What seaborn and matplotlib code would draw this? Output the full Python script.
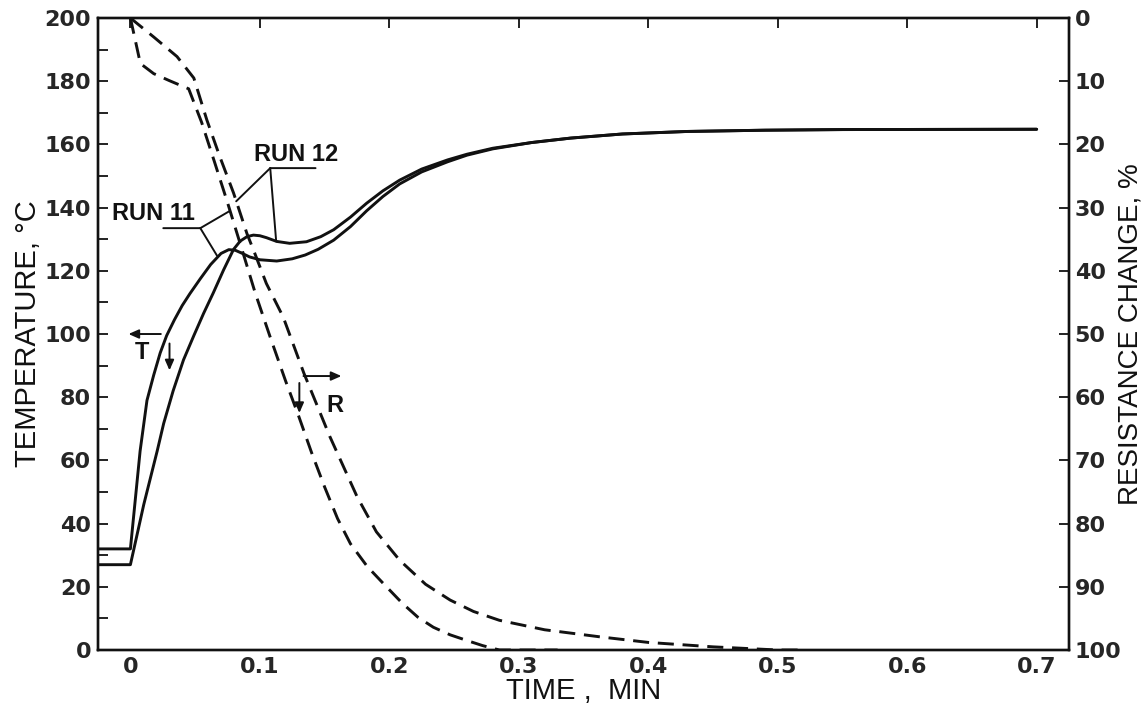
import matplotlib
matplotlib.use("Agg")
import matplotlib.pyplot as plt
import seaborn as sns
import pandas as pd

# --- temperature curves (deg C) ---
t_run11_T = [-0.025, 0.0, 0.0075, 0.0128, 0.018, 0.023, 0.028, 0.034, 0.04, 0.046, 0.054,
             0.062, 0.07, 0.076, 0.081, 0.086, 0.092, 0.1, 0.113, 0.125, 0.135, 0.145,
             0.157, 0.17, 0.1825, 0.195, 0.208, 0.225, 0.245, 0.26, 0.28, 0.31, 0.34,
             0.38, 0.43, 0.49, 0.55, 0.7]
T_run11 = [32, 32, 63, 79, 87, 94, 99.5, 104.5, 109, 112.8, 117.5,
           122, 125.5, 126.7, 126.5, 125.6, 124.4, 123.5, 123.1, 123.8, 125, 126.8,
           129.7, 134, 139, 143.5, 147.5, 151.3, 154.5, 156.6, 158.6, 160.6, 162,
           163.3, 164.1, 164.5, 164.7, 164.8]

t_run12_T = [-0.025, 0.0, 0.0103, 0.0207, 0.0257, 0.033, 0.041, 0.049, 0.0565, 0.064,
             0.072, 0.0797, 0.0848, 0.09, 0.095, 0.1, 0.105, 0.113, 0.123, 0.136, 0.147,
             0.157, 0.17, 0.1825, 0.195, 0.208, 0.225, 0.245, 0.26, 0.28, 0.31, 0.34,
             0.38, 0.43, 0.49, 0.55, 0.7]
T_run12 = [27, 27, 46, 63, 71.7, 82, 91.8, 99.5, 106.5, 113,
           120.3, 126.8, 129.4, 130.8, 131.3, 131.1, 130.5, 129.3, 128.7, 129.2, 130.8,
           133, 137, 141.4, 145.3, 148.7, 152.2, 155.1, 156.9, 158.8, 160.6, 162,
           163.3, 164.1, 164.5, 164.7, 164.8]

# --- resistance change curves (%) ---
t_run11_R = [0.0, 0.0077, 0.018, 0.03, 0.045, 0.055, 0.065, 0.075, 0.086, 0.0964, 0.108,
             0.12, 0.13, 0.14, 0.15, 0.16, 0.17, 0.183, 0.195, 0.21, 0.222, 0.234,
             0.247, 0.26, 0.272, 0.285, 0.33]
R_run11 = [0, 7.2, 8.8, 9.9, 11.2, 16.5, 22.8, 29.2, 36.5, 43.5, 50.5,
           57.5, 63, 68.8, 74.2, 79.2, 83.2, 86.8, 89.4, 92.6, 94.8, 96.4,
           97.6, 98.5, 99.3, 100, 100]

t_run12_R = [0.0, 0.018, 0.036, 0.049, 0.059, 0.069, 0.0797, 0.09, 0.096, 0.105, 0.118,
             0.134, 0.154, 0.175, 0.19, 0.208, 0.228, 0.247, 0.265, 0.285, 0.32, 0.362,
             0.4, 0.45, 0.5, 0.52]
R_run12 = [0, 3.0, 6.1, 9.5, 16.1, 21.9, 27.7, 34.1, 37.2, 42, 47.3,
           56.2, 66.2, 75.7, 81.3, 85.8, 89.6, 92.1, 93.9, 95.3, 96.8, 97.9,
           98.8, 99.5, 100, 100]

x_ticks = [0, 0.1, 0.2, 0.3, 0.4, 0.5, 0.6, 0.7]
x_ticklabels = ["0", "0.1", "0.2", "0.3", "0.4", "0.5", "0.6", "0.7"]
T_ticks = [0, 20, 40, 60, 80, 100, 120, 140, 160, 180, 200]
R_ticks = [0, 10, 20, 30, 40, 50, 60, 70, 80, 90, 100]

sns.set_theme(style="white")
plt.rcParams["font.family"] = ["Liberation Sans", "DejaVu Sans"]
plt.rcParams["axes.edgecolor"] = "black"

fig = plt.figure(figsize=(11.48, 7.18), dpi=100)
ax = fig.add_axes([0.0854, 0.0947, 0.8458, 0.8802])
ax2 = ax.twinx()

ink = "#111111"
solid_lw = 2.1
dash_style = (0, (5.5, 3.0))

df_T = pd.concat([
    pd.DataFrame({"time": t_run11_T, "temp": T_run11, "run": "RUN 11"}),
    pd.DataFrame({"time": t_run12_T, "temp": T_run12, "run": "RUN 12"}),
])
df_R = pd.concat([
    pd.DataFrame({"time": t_run11_R, "res": R_run11, "run": "RUN 11"}),
    pd.DataFrame({"time": t_run12_R, "res": R_run12, "run": "RUN 12"}),
])

for run, sub in df_T.groupby("run"):
    sns.lineplot(data=sub, x="time", y="temp", ax=ax, color=ink, lw=solid_lw,
                 sort=False, estimator=None, legend=False)
for run, sub in df_R.groupby("run"):
    sns.lineplot(data=sub, x="time", y="res", ax=ax2, color=ink, lw=solid_lw,
                 sort=False, estimator=None, legend=False, linestyle=dash_style)

# axes limits and ticks
ax.set_xlim(-0.025, 0.725)
ax.set_ylim(0, 200)
ax2.set_ylim(100, 0)

tick_font = dict(fontsize=16, fontweight="bold", family=["DejaVu Sans"])
ax.set_xticks(x_ticks)
ax.set_xticklabels(x_ticklabels, **tick_font)
ax.set_yticks(T_ticks)
ax.set_yticklabels([str(v) for v in T_ticks], **tick_font)
ax.set_yticks(list(range(10, 200, 20)), minor=True)
ax2.set_yticks(R_ticks)
ax2.set_yticklabels([str(v) for v in R_ticks], **tick_font)

ax.tick_params(axis="both", which="both", direction="in", color=ink, width=1.3)
ax.tick_params(axis="y", which="major", length=7, pad=5)
ax.tick_params(axis="y", which="minor", length=7)
ax.tick_params(axis="x", which="major", length=7, pad=5, top=True)
ax2.tick_params(axis="y", direction="in", length=7, width=1.3, color=ink, pad=4)

for a in (ax, ax2):
    for s in a.spines.values():
        s.set_linewidth(1.7)
        s.set_color(ink)

ax.set_xlabel("TIME ,  MIN", fontsize=21, labelpad=0, color=ink)
ax.set_ylabel("TEMPERATURE, °C", fontsize=21, color=ink)
ax2.set_ylabel("RESISTANCE CHANGE, %", fontsize=20, color=ink)
ax.yaxis.set_label_coords(-0.058, 0.5)
ax2.yaxis.set_label_coords(1.05, 0.5)
ax.grid(False)
ax2.grid(False)

# run labels with leader lines
label_font = dict(fontsize=17, fontweight="bold", color=ink)
leader = dict(arrowstyle="-", lw=1.4, color=ink, shrinkA=0, shrinkB=0)

ax.text(0.0177, 138, "RUN 11", ha="center", va="center", **label_font)
ax.annotate("", xy=(0.0254, 133.5), xytext=(0.054, 133.5), arrowprops=leader)
ax.annotate("", xy=(0.0669, 124.8), xytext=(0.054, 133.5), arrowprops=leader)
ax.annotate("", xy=(0.077, 30.5), xycoords=ax2.transData,
            xytext=(0.054, 133.5), textcoords=ax.transData, arrowprops=leader)

ax.text(0.128, 156.8, "RUN 12", ha="center", va="center", **label_font)
ax.annotate("", xy=(0.108, 152.5), xytext=(0.143, 152.5), arrowprops=leader)
ax.annotate("", xy=(0.1126, 129.3), xytext=(0.108, 152.5), arrowprops=leader)
ax.annotate("", xy=(0.0817, 29.0), xycoords=ax2.transData,
            xytext=(0.108, 152.5), textcoords=ax.transData, arrowprops=leader)

# axis pointers for the two families of curves
arrow = dict(arrowstyle="-|>,head_length=0.5,head_width=0.22", lw=1.4, color=ink,
             shrinkA=0, shrinkB=0)
ax.annotate("", xy=(-0.0015, 100), xytext=(0.0235, 100), arrowprops=arrow)
ax.text(0.009, 94.2, "T", ha="center", va="center", **label_font)
ax.annotate("", xy=(0.0302, 88.5), xytext=(0.0302, 97), arrowprops=arrow)

ax.annotate("", xy=(0.163, 86.7), xytext=(0.1337, 86.7), arrowprops=arrow)
ax.text(0.158, 77.5, "R", ha="center", va="center", **label_font)
ax.annotate("", xy=(0.1305, 75), xytext=(0.1305, 84.5), arrowprops=arrow)

fig.savefig("out.png", dpi=100)
